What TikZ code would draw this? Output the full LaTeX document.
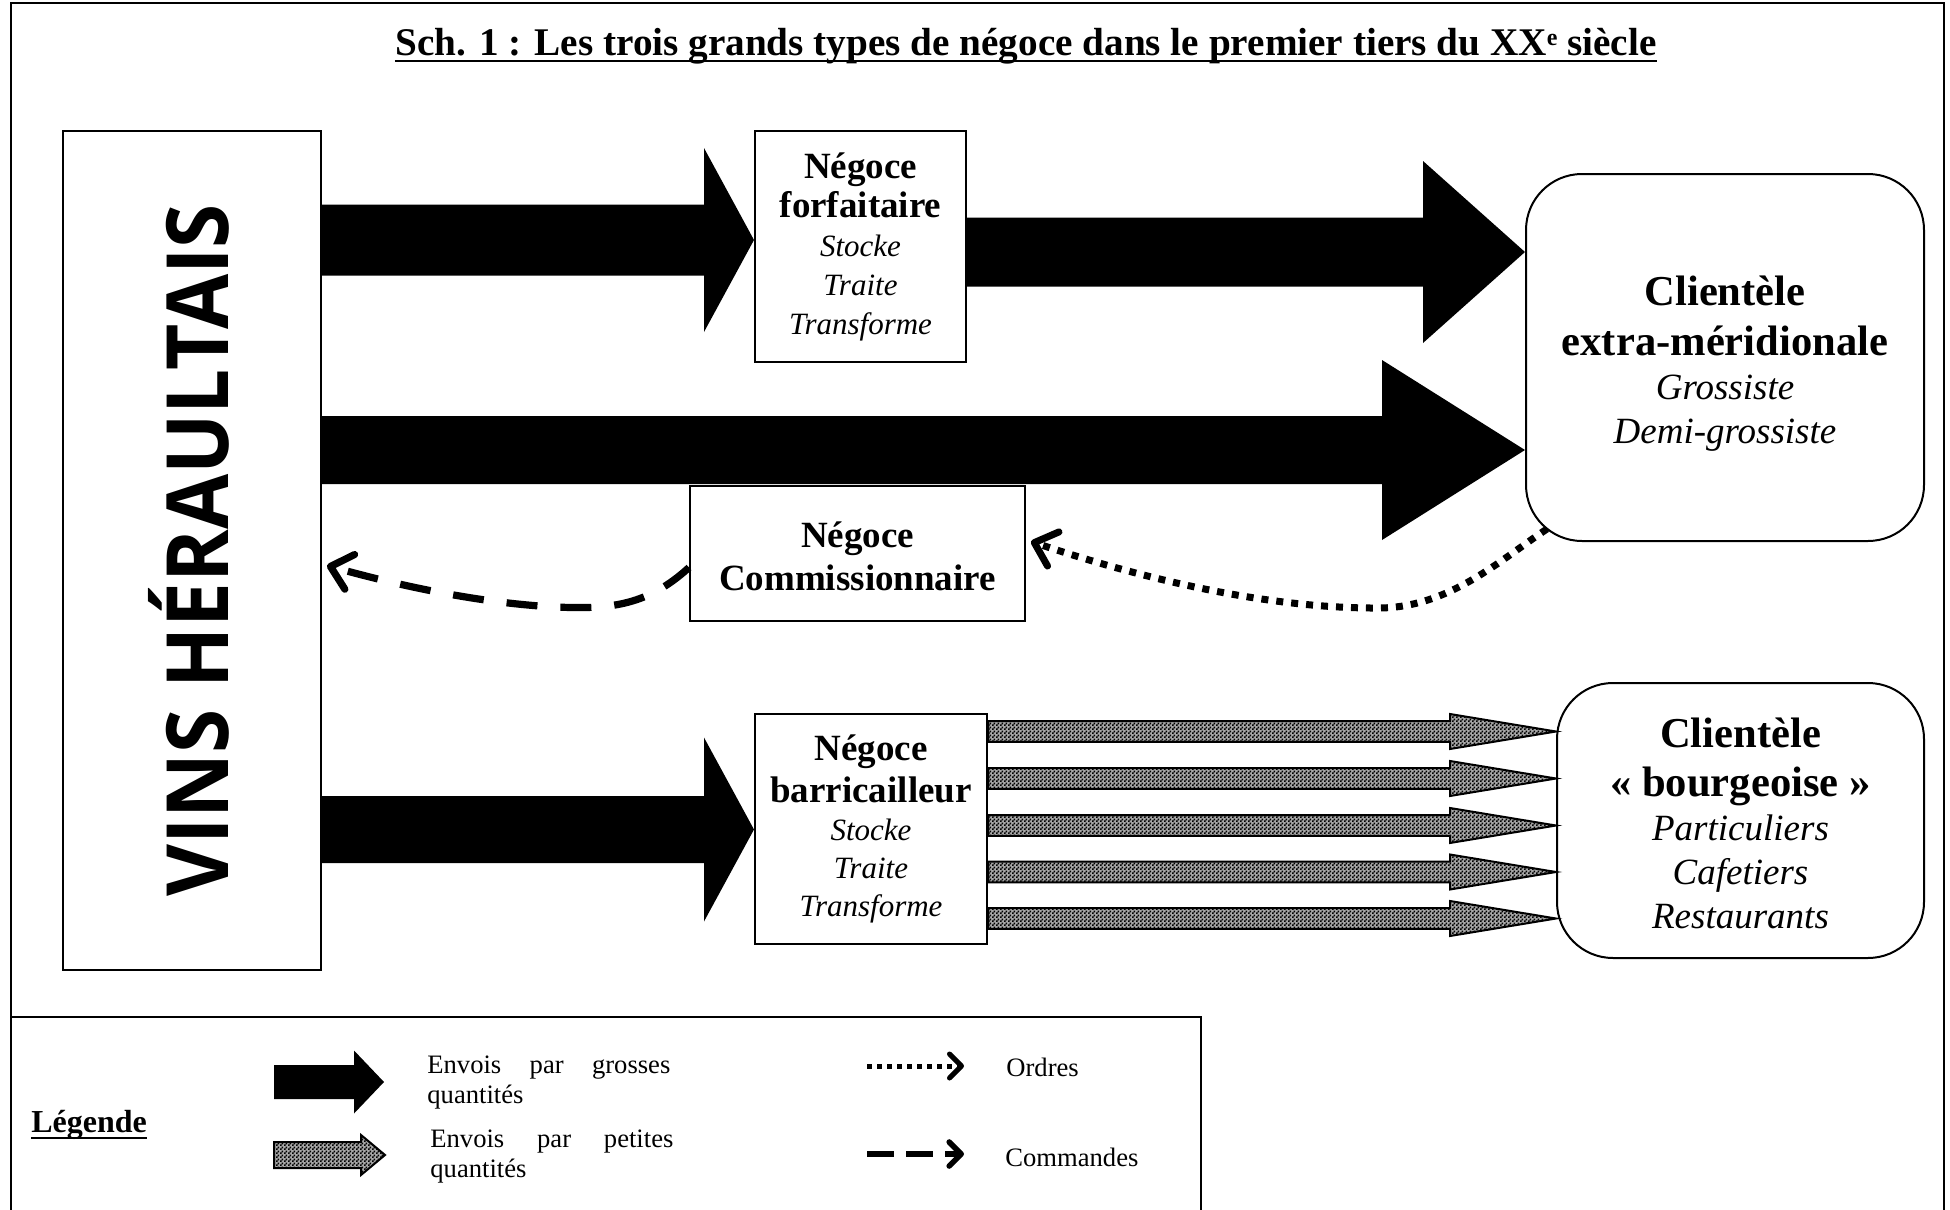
\documentclass[tikz,border=0pt]{standalone}
\usepackage{fontspec}
\usepackage{graphicx}
\setmainfont{Liberation Serif}
\newfontfamily\vinsfont{Open Sans}
\usetikzlibrary{arrows.meta,calc,patterns}
\pgfdeclarepatternformonly{checker}{\pgfpointorigin}{\pgfqpoint{2pt}{2pt}}{\pgfqpoint{2pt}{2pt}}{%
  \pgfpathrectangle{\pgfpointorigin}{\pgfqpoint{1pt}{1pt}}%
  \pgfpathrectangle{\pgfqpoint{1pt}{1pt}}{\pgfqpoint{1pt}{1pt}}%
  \pgfusepath{fill}}
\newcommand\BoldS[1]{{\bfseries\fontsize{18.5}{19.5}\selectfont #1}}
\newcommand\BoldL[1]{{\bfseries\fontsize{21.3}{22}\selectfont #1}}
\newcommand\ItS[1]{{\itshape\fontsize{15.5}{19.5}\selectfont #1}}
\newcommand\ItL[1]{{\itshape\fontsize{18.5}{22}\selectfont #1}}
\newcommand\FatArrow[6][]{%
  \path[#1] let \p1=#2, \p2=#3 in
    (\x1,\y2+#4) -- (\x2-#6,\y2+#4) -- (\x2-#6,\y2+#5) -- (\x2,\y2)
    -- (\x2-#6,\y2-#5) -- (\x2-#6,\y2-#4) -- (\x1,\y2-#4) -- cycle;}
\tikzset{
  box/.style={draw, line width=1pt, fill=white, inner sep=0pt, align=center},
  rbox/.style={box, rounded corners=28pt},
  boxtext/.style={inner sep=0pt, align=center},
  bigarrow/.style={fill=black},
  smallarrow/.style={draw=black, line width=1pt, preaction={fill=black!35}, pattern=checker},
  ordres/.style={line width=3.5pt, dash pattern=on 3.5pt off 4pt,
    -{Straight Barb[length=10pt,width=18pt,round]}},
  commandes/.style={line width=3.6pt, dash pattern=on 15.5pt off 11.5pt,
    -{Straight Barb[length=10pt,width=18pt,round]}},
  ordresleg/.style={line width=2.5pt, dash pattern=on 2.5pt off 2.5pt,
    -{Straight Barb[length=6pt,width=12pt,round]}},
  commandesleg/.style={line width=2.8pt, dash pattern=on 13.5pt off 6pt,
    -{Straight Barb[length=6pt,width=12pt,round]}},
  legtext/.style={inner sep=0pt, font=\fontsize{13.3}{15}\selectfont}
}
\begin{document}
\begin{tikzpicture}[x=0.5pt,y=-0.5pt]
\fill[white] (0,0) rectangle (1950,1210);
\useasboundingbox (0,0) rectangle (1950,1210);

% outer frame and legend frame
\draw[line width=1.2pt] (11,1210) -- (11,3) -- (1944,3) -- (1944,1210);
\draw[line width=1pt] (11,1017) -- (1201,1017) -- (1201,1210);

% title
\node[anchor=base, inner sep=0pt] (title) at (1026,55)
  {\fontsize{19.6}{24}\selectfont\bfseries Sch. 1 : Les trois grands types de négoce dans le premier tiers du XX\raisebox{0.25em}{\fontsize{12}{14}\selectfont e} siècle};
\draw[line width=1.3pt] ($(title.base west)+(0,6)$) -- ($(title.base east)+(0,6)$);

% boxes
\node[box, minimum width=129pt, minimum height=419.5pt] (vins) at (192,550.5) {};
\node[rotate=90, anchor=base, inner sep=0pt] (vinstext) at ($(vins.center)+(36,0)$)
  {\vinsfont\bfseries\fontsize{43}{50}\selectfont\scalebox{0.93}[1]{VINS HÉRAULTAIS}};

\node[box, minimum width=105.5pt, minimum height=115.5pt, font=\fontsize{15.5}{19.5}\selectfont]
  (forf) at (860.5,246.5)
  {\BoldS{Négoce}\\\BoldS{forfaitaire}\\\ItS{Stocke}\\\ItS{Traite}\\\ItS{Transforme}};

\node[rbox, minimum width=199pt, minimum height=183.5pt] (extra) at (1725,357.5) {};
\node[boxtext, font=\fontsize{18.5}{22}\selectfont] (extratext) at ($(extra.center)+(0,6)$)
  {\BoldL{Clientèle}\\[3pt]\BoldL{extra-méridionale}\\\ItL{Grossiste}\\\ItL{Demi-grossiste}};

\node[box, minimum width=167.5pt, minimum height=67.5pt] (comm) at (857.5,553.5) {};
\node[boxtext, font=\fontsize{18.5}{21.5}\selectfont] (commtext) at ($(comm.center)+(0,3)$)
  {\BoldS{Négoce}\\\BoldS{Commissionnaire}};

\node[box, minimum width=116pt, minimum height=115pt, font=\fontsize{15.5}{19}\selectfont]
  (barr) at (871,829)
  {\BoldS{Négoce}\\[2pt]\BoldS{barricailleur}\\\ItS{Stocke}\\\ItS{Traite}\\\ItS{Transforme}};

\node[rbox, minimum width=183.5pt, minimum height=137.5pt] (bourg) at (1740.5,820.5) {};
\node[boxtext, font=\fontsize{18.5}{22}\selectfont] (bourgtext) at ($(bourg.center)+(0,3)$)
  {\BoldL{Clientèle}\\[2.5pt]\BoldL{« bourgeoise »}\\\ItL{Particuliers}\\\ItL{Cafetiers}\\\ItL{Restaurants}};

% big arrows
\FatArrow[bigarrow]{(vins.east)}{(forf.west |- 0,240)}{17.75pt}{46pt}{25pt}
\FatArrow[bigarrow]{(forf.east)}{(extra.west |- 0,252)}{17.25pt}{45.5pt}{51pt}
\FatArrow[bigarrow]{(vins.east)}{(extra.west |- 0,450)}{17pt}{45pt}{71.5pt}
\FatArrow[bigarrow]{(vins.east)}{(barr.west |- 0,829.5)}{16.75pt}{46pt}{25pt}

% small (grey) arrows
\foreach \yy in {731.5,778.5,825.5,872,918.5}{
  \FatArrow[smallarrow]{(barr.east)}{(bourg.west |- 0,\yy)}{5.2pt}{8.75pt}{53pt}
}

% ordres (dotted) and commandes (dashed)
\draw[ordres] ($(extra.south west)+(22,-13)$) .. controls (1500,560) and (1450,607) .. (1380,608)
  .. controls (1250,609) and (1110,568) .. ($(comm.east)+(5,-12)$);
\draw[commandes] ($(comm.west)+(0,14)$) .. controls (645,608) and (605,609) .. (555,607)
  .. controls (480,603) and (400,586) .. ($(vins.east)+(5,15)$);

% legend
\node[anchor=base west, inner sep=0pt] (leg) at (31,1132)
  {\fontsize{16}{19}\selectfont\bfseries Légende};
\draw[line width=1.2pt] ($(leg.base west)+(0,6)$) -- ($(leg.base east)+(0,6)$);
\coordinate (lga) at (274,1082);
\coordinate (lgb) at (384,1082);
\FatArrow[bigarrow]{(lga)}{(lgb)}{8.5pt}{15.75pt}{15pt}
\coordinate (lgc) at (274,1155);
\coordinate (lgd) at (385,1155);
\FatArrow[smallarrow]{(lgc)}{(lgd)}{6.5pt}{10pt}{12pt}
\node[legtext, anchor=north west, align=left] (l1) at (427,1055)
  {\makebox[121.5pt][s]{Envois par grosses}\\quantités};
\node[legtext, anchor=north west, align=left] (l2) at (430,1129)
  {\makebox[121.5pt][s]{Envois par petites}\\quantités};
\coordinate (loa) at (867,1066);
\coordinate (lob) at (964,1066);
\draw[ordresleg] (loa) -- (lob);
\coordinate (lca) at (867,1154);
\coordinate (lcb) at (964,1154);
\draw[commandesleg] (lca) -- (lcb);
\node[legtext, anchor=base west] (l3) at (1006,1076) {Ordres};
\node[legtext, anchor=base west] (l4) at (1005,1166) {Commandes};
\end{tikzpicture}
\end{document}
